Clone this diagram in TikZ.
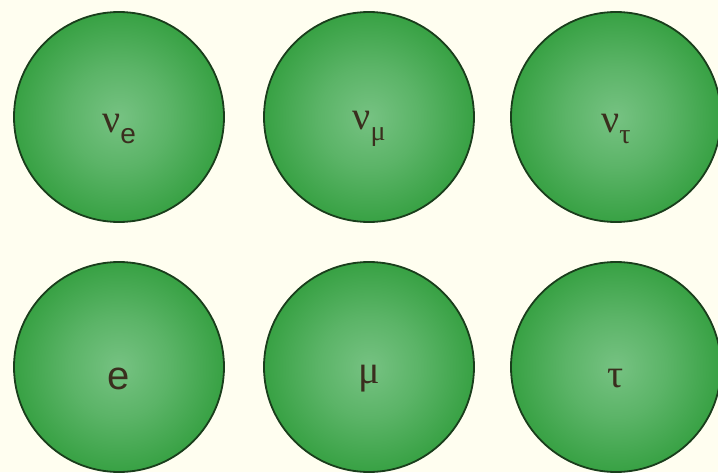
\documentclass[tikz,border=0pt]{standalone}
\usepackage{fontspec}
\setmainfont{Liberation Sans}
\newfontfamily\greekfont{Liberation Serif}
\usetikzlibrary{positioning}

\definecolor{paper}{HTML}{FFFEF0}
\definecolor{ballin}{HTML}{76C282}
\definecolor{ballout}{HTML}{2A9A36}
\definecolor{ballrim}{HTML}{1A3E1C}
\definecolor{ink}{HTML}{3A2E1E}

\pgfdeclareradialshading{greenball}{\pgfpoint{0bp}{0bp}}{%
  color(0bp)=(ballin); color(12bp)=(ballin!65!ballout);
  color(30bp)=(ballout); color(50bp)=(ballout)}

\newcommand{\gr}[1]{{\greekfont #1}}
\newcommand{\sub}[1]{\raisebox{-0.5ex}{\fontsize{14}{15}\selectfont #1}}

\begin{document}
\begin{tikzpicture}[
    x=0.5pt, y=-0.5pt,
    ball/.style={
        circle, draw=ballrim, line width=0.9pt, shading=greenball,
        minimum size=105pt, inner sep=0pt
    },
    symbol/.style={
        text=ink, font=\fontsize{20}{22}\selectfont, inner sep=0pt
    }
]

% Background
\fill[paper] (0,0) rectangle (718,472);
\useasboundingbox (0,0) rectangle (718,472);

% -------------------------
% Neutrinos (top row)
% -------------------------
\node[ball] (NuE)   at (119,117) {};
\node[ball] (NuMu)  at (369,117) {};
\node[ball] (NuTau) at (616,117) {};

% -------------------------
% Charged leptons (bottom row)
% -------------------------
\node[ball] (E)   at (119,367) {};
\node[ball] (Mu)  at (369,367) {};
\node[ball] (Tau) at (616,367) {};

% Labels
\node[symbol] (NuELabel)   at ([yshift=-6pt]NuE.center)   {\gr{ν}\sub{e}};
\node[symbol] (NuMuLabel)  at ([yshift=-6pt]NuMu.center)  {\gr{ν}\sub{\gr{μ}}};
\node[symbol] (NuTauLabel) at ([yshift=-6pt]NuTau.center) {\gr{ν}\sub{\gr{τ}}};

\node[symbol] (ELabel)   at ([yshift=-6pt]E.center)   {e};
\node[symbol] (MuLabel)  at ([yshift=-6pt]Mu.center)  {\gr{μ}};
\node[symbol] (TauLabel) at ([yshift=-6pt]Tau.center) {\gr{τ}};

\end{tikzpicture}
\end{document}
